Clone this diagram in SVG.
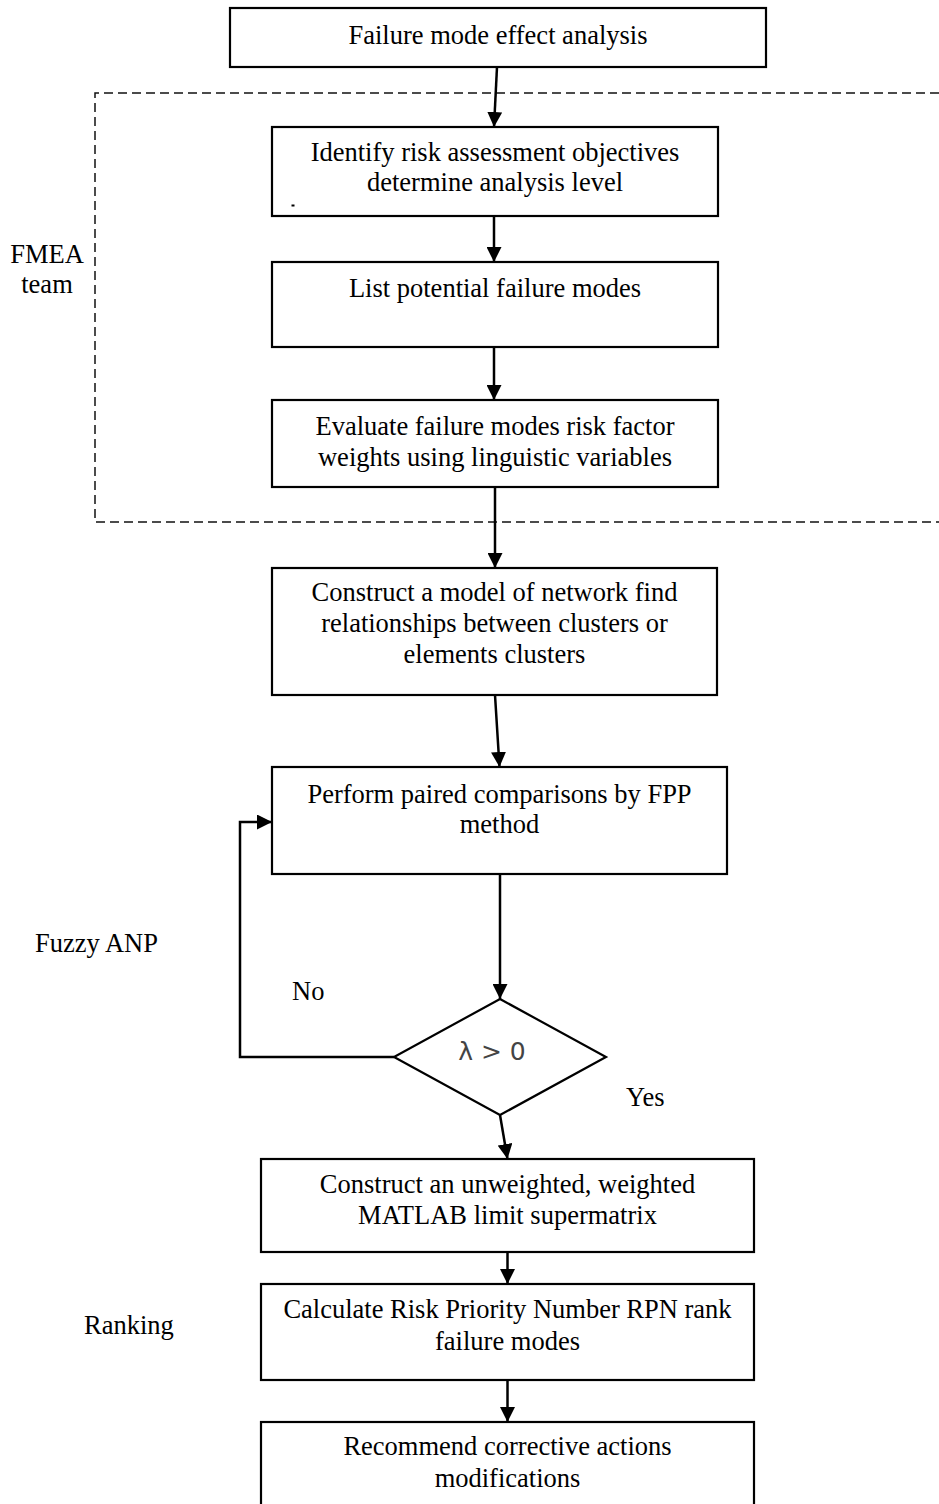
<svg xmlns="http://www.w3.org/2000/svg" width="939" height="1504" viewBox="0 0 939 1504">
  <style>
    .box { fill: #ffffff; stroke: #000000; stroke-width: 2.2; }
    .lbl { font-family: "Liberation Serif", "Times New Roman", serif; font-size: 26.5px; fill: #000000; text-anchor: middle; }
    .side { font-family: "Liberation Serif", "Times New Roman", serif; font-size: 26.5px; fill: #000000; }
    .edge { fill: none; stroke: #000000; stroke-width: 2.5; marker-end: url(#arrow); }
    .zone { fill: none; stroke: #111111; stroke-width: 1.5; stroke-dasharray: 9 5; }
    .cond { font-family: "DejaVu Sans", sans-serif; font-size: 25px; fill: #444444; }
  </style>
  <defs>
    <marker id="arrow" markerUnits="userSpaceOnUse" markerWidth="15" markerHeight="15" refX="15" refY="7.5" orient="auto">
      <path d="M0,0 L15,7.5 L0,15 Z" fill="#000000"/>
    </marker>
  </defs>

  <rect width="939" height="1504" fill="#ffffff"/>

  <!-- FMEA team zone (open on the right) -->
  <g id="fmea-zone">
    <path class="zone" d="M939,93 H95 V522 H939"/>
    <text class="side" x="47" y="263" text-anchor="middle">FMEA</text>
    <text class="side" x="47" y="293" text-anchor="middle">team</text>
  </g>

  <!-- side labels -->
  <g id="label-fuzzy-anp"><text class="side" x="35" y="952">Fuzzy ANP</text></g>
  <g id="label-ranking"><text class="side" x="84" y="1334">Ranking</text></g>

  <!-- connectors -->
  <g id="connectors">
    <path class="edge" d="M497,67 L494,127"/>
    <path class="edge" d="M494,216 L494,262"/>
    <path class="edge" d="M494,347 L494,400"/>
    <path class="edge" d="M495,487 L495,568"/>
    <path class="edge" d="M495,695 L499.5,767"/>
    <path class="edge" d="M500,874 L500,999"/>
    <path class="edge" d="M500,1115 L507.5,1159"/>
    <path class="edge" d="M507.5,1252 L507.5,1284"/>
    <path class="edge" d="M507.5,1380 L507.5,1422"/>
    <path class="edge" d="M394,1057 H240 V822 H272"/>
    <text class="side" x="292" y="1000">No</text>
    <text class="side" x="626" y="1106">Yes</text>
  </g>

  <g id="n-fmea">
    <rect class="box" x="230" y="8" width="536" height="59"/>
    <text class="lbl" x="498" y="44">Failure mode effect analysis</text>
  </g>

  <g id="n-identify">
    <rect class="box" x="272" y="127" width="446" height="89"/>
    <text class="lbl" x="495" y="161">Identify risk assessment objectives</text>
    <text class="lbl" x="495" y="191">determine analysis level</text>
    <rect x="291.5" y="204.5" width="3" height="2" fill="#000000"/>
  </g>

  <g id="n-list">
    <rect class="box" x="272" y="262" width="446" height="85"/>
    <text class="lbl" x="495" y="297">List potential failure modes</text>
  </g>

  <g id="n-evaluate">
    <rect class="box" x="272" y="400" width="446" height="87"/>
    <text class="lbl" x="495" y="435">Evaluate failure modes risk factor</text>
    <text class="lbl" x="495" y="466">weights using linguistic variables</text>
  </g>

  <g id="n-network">
    <rect class="box" x="272" y="568" width="445" height="127"/>
    <text class="lbl" x="494.5" y="601">Construct a model of network find</text>
    <text class="lbl" x="494.5" y="632">relationships between clusters or</text>
    <text class="lbl" x="494.5" y="663">elements clusters</text>
  </g>

  <g id="n-paired">
    <rect class="box" x="272" y="767" width="455" height="107"/>
    <text class="lbl" x="499.5" y="803">Perform paired comparisons by FPP</text>
    <text class="lbl" x="499.5" y="833">method</text>
  </g>

  <g id="n-check">
    <path class="box" d="M500,999 L606,1057 L500,1115 L394,1057 Z"/>
    <text class="cond" x="492" y="1060" text-anchor="middle">λ &gt; 0</text>
  </g>

  <g id="n-supermatrix">
    <rect class="box" x="261" y="1159" width="493" height="93"/>
    <text class="lbl" x="507.5" y="1193">Construct an unweighted, weighted</text>
    <text class="lbl" x="507.5" y="1224">MATLAB limit supermatrix</text>
  </g>

  <g id="n-rpn">
    <rect class="box" x="261" y="1284" width="493" height="96"/>
    <text class="lbl" x="507.5" y="1318">Calculate Risk Priority Number RPN rank</text>
    <text class="lbl" x="507.5" y="1350">failure modes</text>
  </g>

  <g id="n-recommend">
    <rect class="box" x="261" y="1422" width="493" height="90"/>
    <text class="lbl" x="507.5" y="1455">Recommend corrective actions</text>
    <text class="lbl" x="507.5" y="1487">modifications</text>
  </g>
</svg>
